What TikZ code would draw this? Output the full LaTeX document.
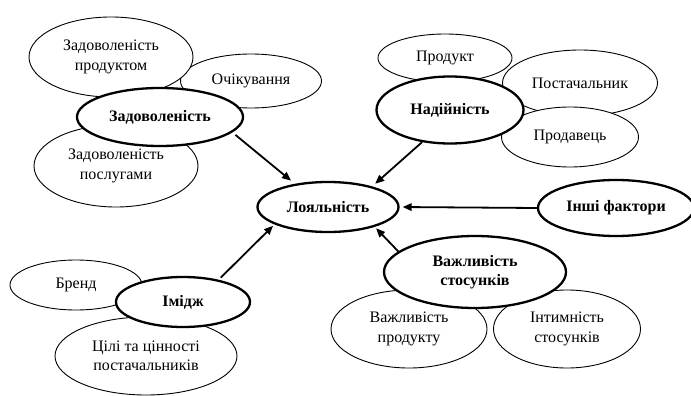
\documentclass[tikz,border=0pt]{standalone}
\usepackage{fontspec}
\setmainfont{Liberation Serif}
\usetikzlibrary{shapes.geometric,arrows.meta}
\begin{document}
\begin{tikzpicture}[x=1pt,y=-1pt,
  sub/.style={ellipse, draw=black, line width=0.9pt, fill=white, inner sep=0pt, align=center,
    font=\fontsize{16}{19.5}\selectfont},
  main/.style={ellipse, draw=black, line width=2.3pt, fill=white, inner sep=0pt, align=center,
    font=\fontsize{16}{19.5}\selectfont\bfseries},
  link/.style={line width=1.8pt, -{Triangle[length=9pt,width=7.5pt]}}]
\useasboundingbox (0,0) rectangle (691,396);
% Satisfaction cluster
\node[sub, minimum width=141pt, minimum height=54pt] (ochik) at (251,81) {Очікування};
\node[sub, minimum width=164pt, minimum height=80pt] (zprod) at (111,57) {Задоволеність\\продуктом};
\node[sub, minimum width=164pt, minimum height=82pt] (zposl) at (116,166) {Задоволеність\\послугами};
\node[main, minimum width=166pt, minimum height=58pt] (zad) at (160,117) {Задоволеність};
% Reliability cluster
\node[sub, minimum width=134pt, minimum height=48pt] (prod) at (445,58) {Продукт};
\node[sub, minimum width=155pt, minimum height=66pt] (post) at (580,83) {Постачальник};
\node[sub, minimum width=137pt, minimum height=60pt] (prodav) at (570,137) {Продавець};
\node[main, minimum width=147pt, minimum height=67pt] (nad) at (450,110) {Надійність};
% Loyalty
\node[main, minimum width=141pt, minimum height=50pt] (loy) at (328,207) {Лояльність};
% Other factors
\node[main, minimum width=156pt, minimum height=56pt] (inshi) at (616,208) {Інші фактори};
% Relationship importance cluster
\node[sub, minimum width=156pt, minimum height=78pt] (vprod) at (409,329) {Важливість\\продукту};
\node[sub, minimum width=147pt, minimum height=78pt] (intym) at (567,329) {Інтимність\\стосунків};
\node[main, minimum width=182pt, minimum height=72pt] (vazh) at (475,272) {Важливість\\стосунків};
% Image cluster
\node[sub, minimum width=132pt, minimum height=50pt] (brend) at (76,285) {Бренд};
\node[sub, minimum width=182pt, minimum height=78pt] (tsili) at (146,356) {Цілі та цінності\\постачальників};
\node[main, minimum width=134pt, minimum height=50pt] (imidzh) at (183,302) {Імідж};
% Arrows
\draw[link, shorten >=5pt, shorten <=4pt] (zad.-12) -- (loy.145);
\draw[link, shorten >=4pt] (nad.-131) -- (loy.25);
\draw[link, shorten >=3pt] (inshi.west) -- (loy.east);
\draw[link, shorten >=2pt] (vazh.165) -- (loy.-23);
\draw[link, shorten >=2pt, shorten <=3pt] (imidzh.32) -- (loy.-162);
\end{tikzpicture}
\end{document}
